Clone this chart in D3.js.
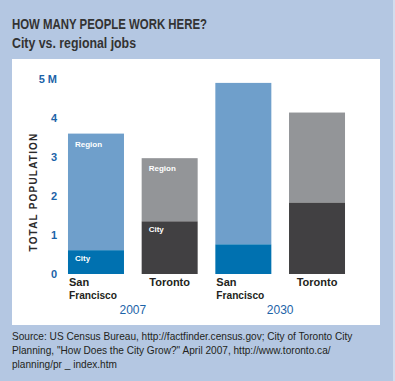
<!DOCTYPE html>
<html><head><meta charset="utf-8">
<script src="https://cdn.jsdelivr.net/npm/d3@7"></script>
<style>
html,body{margin:0;padding:0;background:#b4c7e2;}
svg{display:block;}
</style></head><body>
<svg id="c" width="395" height="381"></svg>
<script>
const groups = ["2007", "2030"];
const cities = ["San Francisco", "Toronto", "San Francisco", "Toronto"];
const years = ["2007", "2007", "2030", "2030"];
const cityJobs = [0.61, 1.35, 0.76, 1.83];
const totalJobs = [3.6, 2.97, 4.9, 4.14];
const yTicks = [0, 1, 2, 3, 4, 5];
const yTickLabels = ["0", "1", "2", "3", "4", "5 M"];
const showLabels = [true, true, false, false];

const svg = d3.select("#c");
const blue = "#1c63a8";
const dark = "#2b2a2b";
const lf = "'Liberation Sans',Arial,sans-serif";

svg.append("rect").attr("x",0).attr("y",0).attr("width",395).attr("height",381).attr("fill","#b4c7e2");
svg.append("rect").attr("x",393).attr("y",0).attr("width",2).attr("height",381).attr("fill","#d3dded");
svg.append("rect").attr("x",12).attr("y",59).attr("width",368).attr("height",266).attr("fill","#fff");

svg.append("text").attr("x",12).attr("y",29).text("HOW MANY PEOPLE WORK HERE?")
  .attr("font-family",lf).attr("font-size",14.5).attr("font-weight","bold").attr("fill","#333")
  .attr("textLength",195).attr("lengthAdjust","spacingAndGlyphs");
svg.append("text").attr("x",12).attr("y",48).text("City vs. regional jobs")
  .attr("font-family",lf).attr("font-size",14.5).attr("font-weight","bold").attr("fill","#333")
  .attr("textLength",124).attr("lengthAdjust","spacingAndGlyphs");

const y = d3.scaleLinear().domain([0,5]).range([274,79]);
const x = d3.scaleBand().domain(d3.range(4)).range([50.3,362.7]).paddingInner(0.24).paddingOuter(0.24);

const colorsRegion = ["#6f9fcb","#939598","#6f9fcb","#939598"];
const colorsCity = ["#0071b0","#414042","#0071b0","#414042"];

const yAxis = d3.axisLeft(y).tickValues(yTicks).tickFormat((d,i)=>yTickLabels[i]).tickSize(0).tickPadding(0);
const ga = svg.append("g").attr("transform","translate(57,0)").call(yAxis);
ga.select(".domain").remove();
ga.selectAll("text").attr("font-family",lf).attr("font-size",11)
  .attr("font-weight","bold").attr("fill",blue);

svg.append("text").attr("transform","translate(37,192) rotate(-90)").attr("text-anchor","middle")
  .text("TOTAL POPULATION").attr("font-family",lf)
  .attr("font-size",10).attr("font-weight","bold").attr("letter-spacing",1.2).attr("fill",dark);

const idx = d3.range(4);
svg.selectAll("rect.reg").data(idx).join("rect").attr("class","reg")
  .attr("x",i=>x(i)).attr("width",x.bandwidth())
  .attr("y",i=>y(totalJobs[i])).attr("height",i=>y(cityJobs[i])-y(totalJobs[i]))
  .attr("fill",i=>colorsRegion[i]);
svg.selectAll("rect.city").data(idx).join("rect").attr("class","city")
  .attr("x",i=>x(i)).attr("width",x.bandwidth())
  .attr("y",i=>y(cityJobs[i])).attr("height",i=>y(0)-y(cityJobs[i]))
  .attr("fill",i=>colorsCity[i]);

const lab = idx.filter(i=>showLabels[i]);
svg.selectAll("text.rl").data(lab).join("text").attr("class","rl")
  .attr("x",i=>x(i)+7).attr("y",i=>y(totalJobs[i])+13).text("Region")
  .attr("font-family",lf).attr("font-size",8).attr("font-weight","bold").attr("fill","#fff");
svg.selectAll("text.cl").data(lab).join("text").attr("class","cl")
  .attr("x",i=>x(i)+7).attr("y",i=>y(cityJobs[i])+11).text("City")
  .attr("font-family",lf).attr("font-size",8).attr("font-weight","bold").attr("fill","#fff");

// category labels
idx.forEach(i=>{
  const t = svg.append("text").attr("font-family",lf).attr("font-size",11).attr("font-weight","bold")
    .attr("fill","#231f20");
  if (cities[i]==="San Francisco") {
    t.attr("x",x(i)+1).attr("y",286);
    t.append("tspan").attr("x",x(i)+1).text("San");
    t.append("tspan").attr("x",x(i)+1).attr("dy",13).attr("textLength",48).attr("lengthAdjust","spacingAndGlyphs").text("Francisco");
  } else {
    t.attr("x",x(i)+x.bandwidth()/2).attr("y",286).attr("text-anchor","middle").text(cities[i]);
  }
});
groups.forEach(g=>{
  const ii = idx.filter(i=>years[i]===g);
  const cx = (x(ii[0])+x(ii[1])+x.bandwidth())/2;
  svg.append("text").attr("x",cx).attr("y",314).attr("text-anchor","middle").text(g)
    .attr("font-family",lf).attr("font-size",12).attr("fill",blue);
});

const src = ["Source: US Census Bureau, http://factfinder.census.gov; City of Toronto City",
  "Planning, \"How Does the City Grow?\" April 2007, http://www.toronto.ca/",
  "planning/pr _ index.htm"];
svg.selectAll("text.src").data(src).join("text").attr("class","src")
  .attr("x",12).attr("y",(d,i)=>340+i*14).text(d=>d)
  .attr("font-family",lf).attr("font-size",10.1).attr("fill","#231f20");
</script></body></html>
